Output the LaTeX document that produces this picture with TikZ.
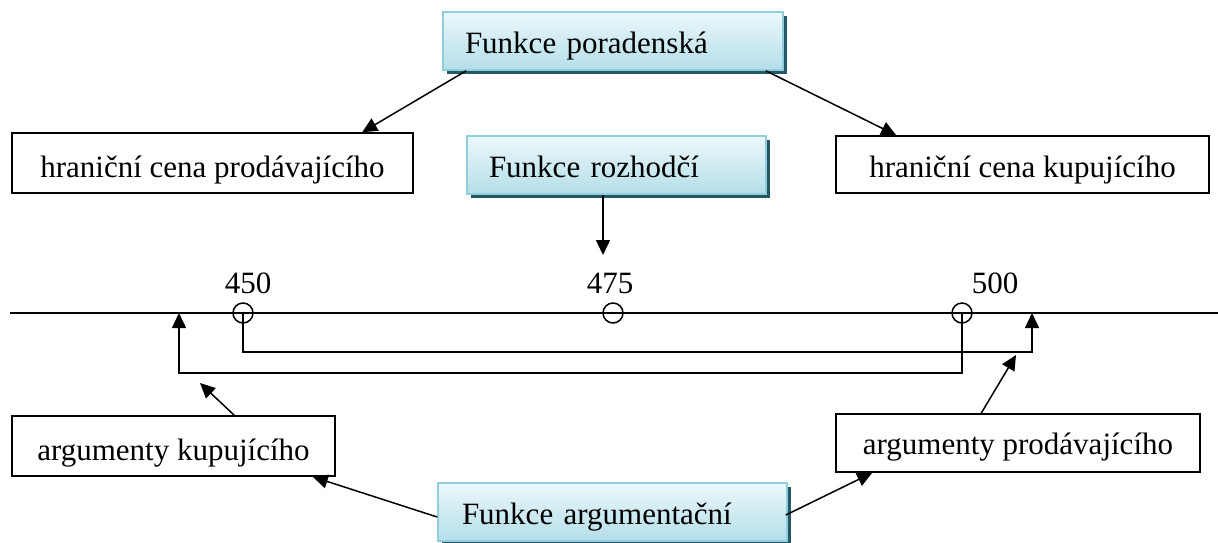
\documentclass[tikz,border=0pt]{standalone}
\usepackage{fontspec}
\setmainfont{Liberation Serif}
\usetikzlibrary{arrows.meta,shadows,calc}
\definecolor{bluetop}{RGB}{236,248,251}
\definecolor{bluebot}{RGB}{180,222,232}
\definecolor{blueedge}{RGB}{145,205,220}
\definecolor{shadowc}{RGB}{35,88,102}
\begin{document}
\begin{tikzpicture}[x=1pt,y=-1pt,
  font=\fontsize{31}{36}\selectfont,
  whitebox/.style={draw=black,line width=1.6pt,fill=white,inner sep=0pt,align=center},
  bluebox/.style={draw=blueedge,line width=1.6pt,top color=bluetop,bottom color=bluebot,
    inner ysep=0pt,align=left,text height=41pt,text depth=17pt,
    drop shadow={shadow xshift=3.5pt,shadow yshift=-3.5pt,fill=shadowc,opacity=1}},
  conn/.style={line width=1.5pt,-{Triangle[length=15pt,width=14pt]}},
  plain/.style={line width=1.5pt},
  ringmark/.style={circle,draw=black,line width=1.5pt,minimum size=20pt,inner sep=0pt},
  num/.style={anchor=base,inner sep=0pt}]
\useasboundingbox (0,0) rectangle (1218,542);

% blue boxes
\node[bluebox,text width=296pt,inner xsep=22pt] (por) at (613,41) {Funkce poradenská};
\node[bluebox,text width=255pt,inner xsep=22pt] (roz) at (616.5,165) {Funkce rozhodčí};
\node[bluebox,text width=301pt,inner xsep=24pt] (arg) at (612.5,512) {Funkce argumentační};

% white boxes
\node[whitebox,minimum width=401pt,text height=44pt,text depth=16pt] (hp) at (212.5,163) {hraniční cena prodávajícího};
\node[whitebox,minimum width=373pt,text height=41pt,text depth=16pt] (hk) at (1022.5,164.5) {hraniční cena kupujícího};
\node[whitebox,minimum width=323pt,text height=44pt,text depth=16pt] (ak) at (173.5,446) {argumenty kupujícího};
\node[whitebox,minimum width=364pt,text height=40pt,text depth=18pt] (ap) at (1018,443) {argumenty prodávajícího};

% axis
\coordinate (axL) at (10,313);
\coordinate (axR) at (1218,313);
\draw[plain] (axL) -- (axR);
\node[ringmark] (c450) at (243,313) {};
\node[ringmark] (c475) at (613,313) {};
\node[ringmark] (c500) at (962,313) {};
\node[num] (l450) at (248,293) {450};
\node[num] (l475) at (610,293) {475};
\node[num] (l500) at (995,293) {500};

% ranges
\coordinate (upR) at (1032,313);
\coordinate (lowR) at (1032,352);
\coordinate (upL) at (179,313);
\coordinate (lowL) at (179,373);
\draw[conn] (c450.center) |- (lowR) -- (upR);
\draw[conn] (c500.center) |- (lowL) -- (upL);

% connectors
\coordinate (rozend) at (603,255);
\draw[conn] ([xshift=24pt]por.south west) -- ([xshift=351pt]hp.north west);
\draw[conn] ([xshift=-18pt]por.south east) -- ([xshift=61pt]hk.north west);
\draw[conn] ([xshift=-13.5pt]roz.south) -- (rozend);
\draw[conn] ([yshift=-5pt]arg.west) -- ([xshift=-23pt]ak.south east);
\draw[conn] ([xshift=-2pt,yshift=-3pt]arg.east) -- ([xshift=37pt]ap.south west);
\coordinate (akend) at (200,383);
\coordinate (apend) at (1016,355);
\draw[conn] ([xshift=223pt]ak.north west) -- (akend);
\draw[conn] ([xshift=146pt]ap.north west) -- (apend);
\end{tikzpicture}
\end{document}
